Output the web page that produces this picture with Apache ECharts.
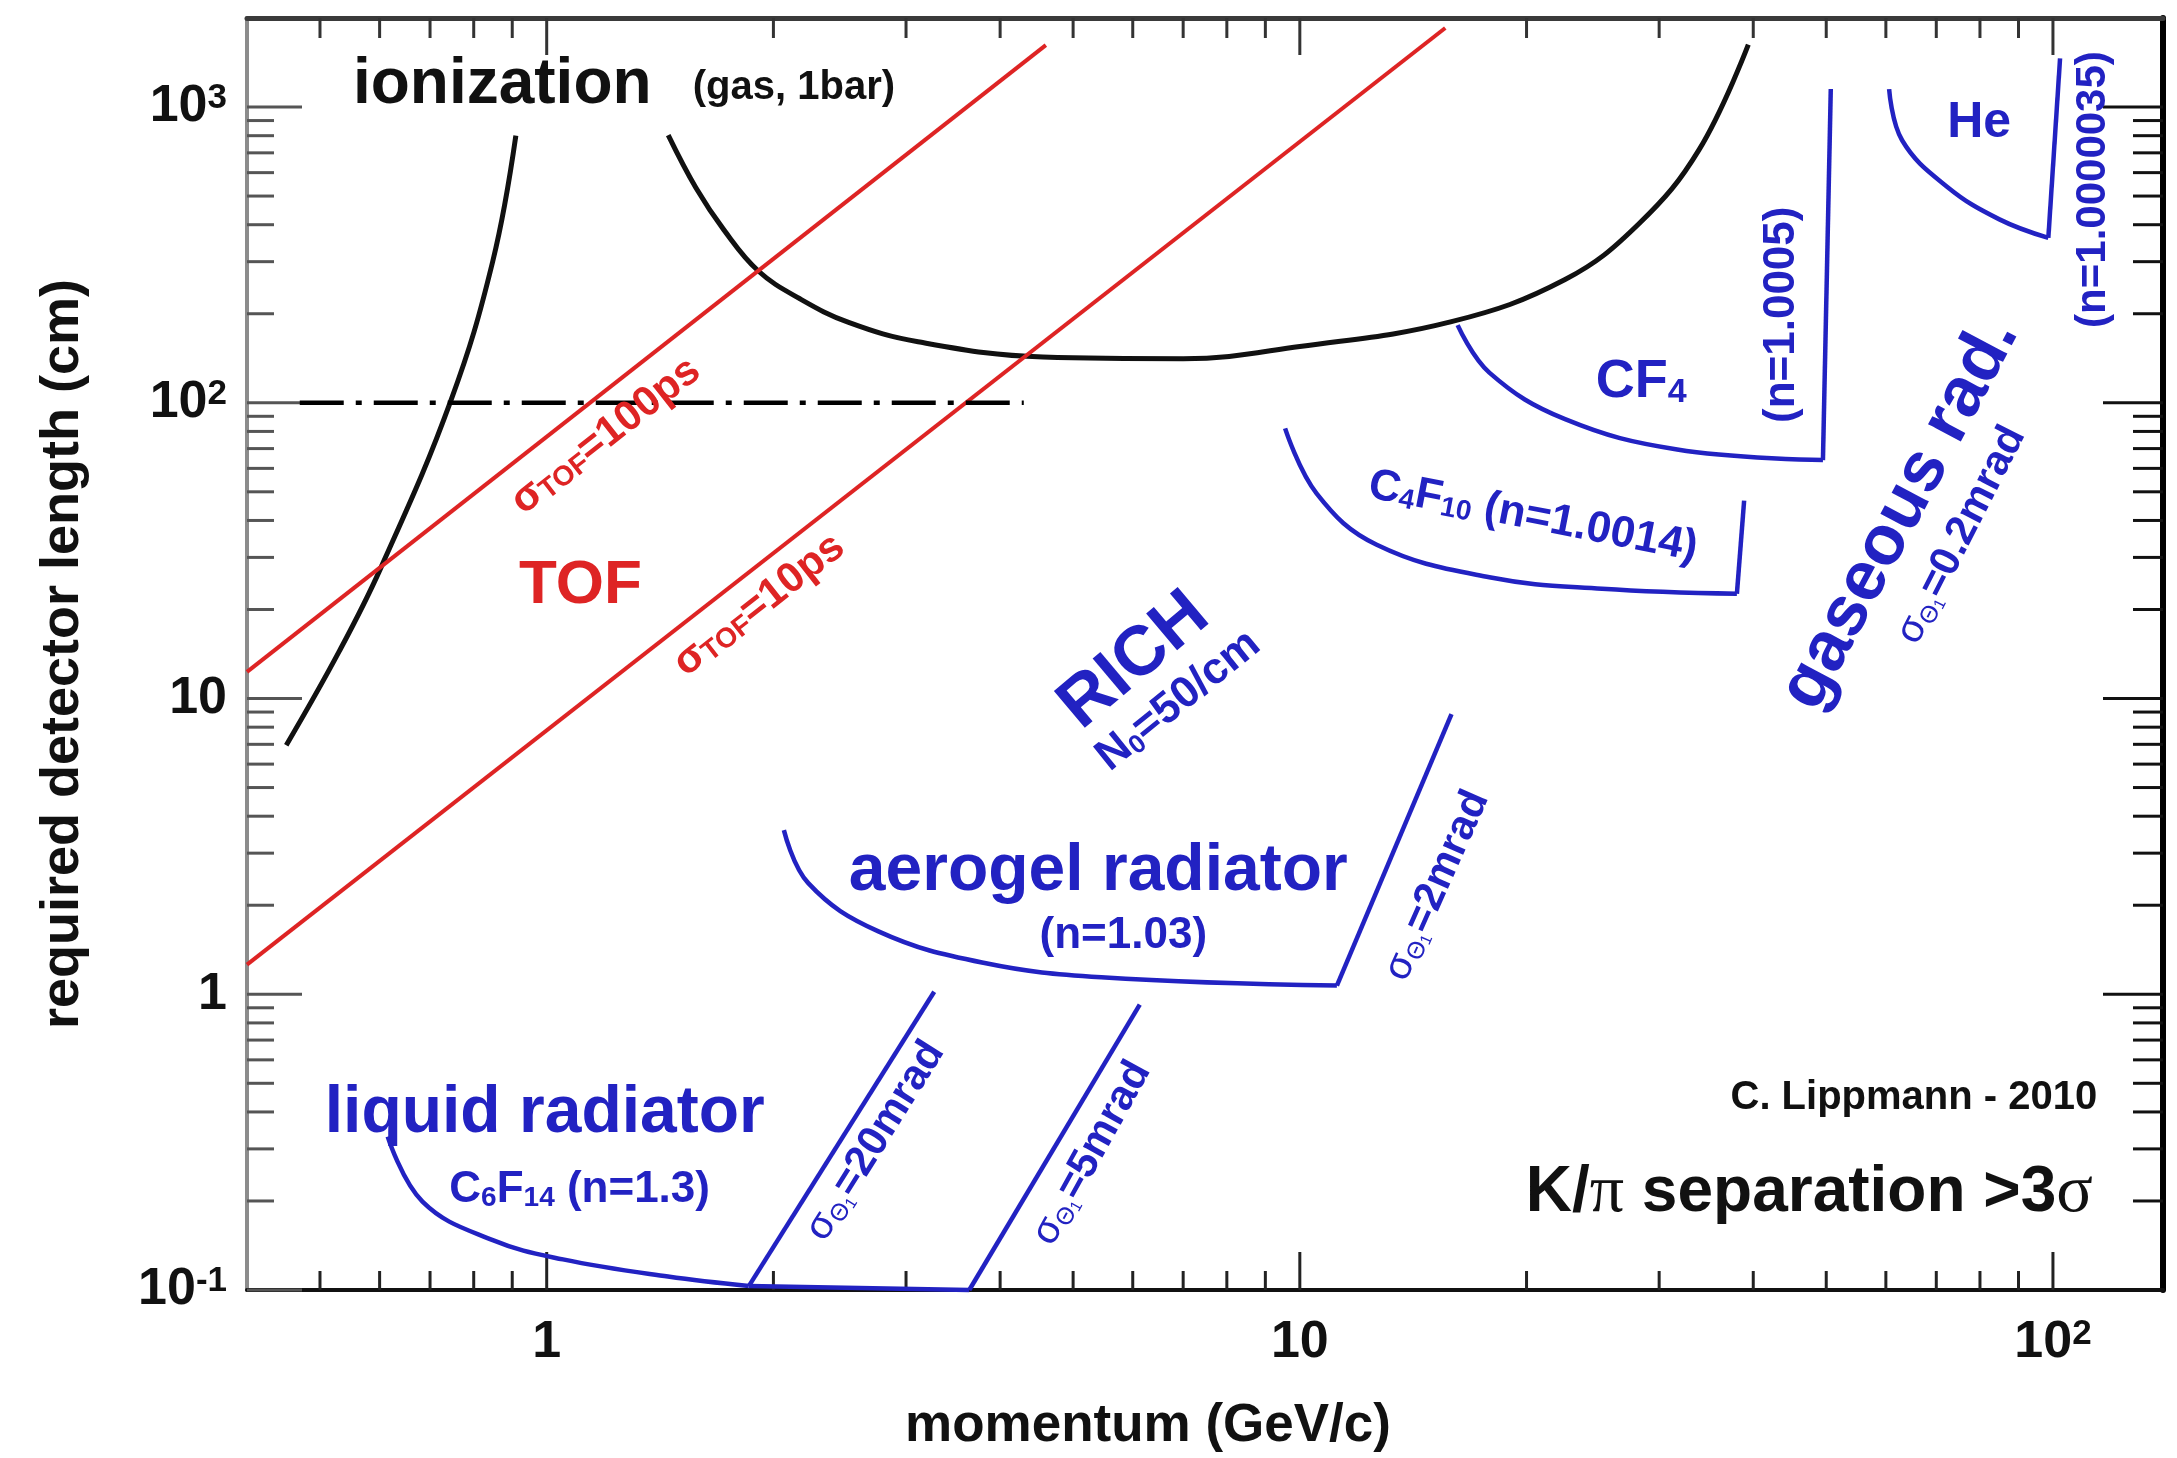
<!DOCTYPE html>
<html>
<head>
<meta charset="utf-8">
<script src="https://cdn.jsdelivr.net/npm/echarts@6/dist/echarts.min.js"></script>
<style>
  html, body { margin: 0; padding: 0; background: #fff; }
  #chart { width: 2177px; height: 1458px; }
</style>
</head>
<body>
<div id="chart"></div>
<script>
// Axis ranges: momentum (GeV/c) and required detector length (cm), both logarithmic
const X_MIN = 0.4, X_MAX = 140;
const Y_MIN = 0.1, Y_MAX = 2000;

// Tick values and labels
const xTickValues = [1, 10, 100];
const xTickLabels = ['1', '10', '10{s|2}'];
const xMinorTicks = [0.5, 0.6, 0.7, 0.8, 0.9, 2, 3, 4, 5, 6, 7, 8, 9, 20, 30, 40, 50, 60, 70, 80, 90];
const yTickValues = [0.1, 1, 10, 100, 1000];
const yTickLabels = ['10{s|-1}', '1', '10', '10{s|2}', '10{s|3}'];
const yMinorTicks = [0.2, 0.3, 0.4, 0.5, 0.6, 0.7, 0.8, 0.9, 2, 3, 4, 5, 6, 7, 8, 9,
                     20, 30, 40, 50, 60, 70, 80, 90, 200, 300, 400, 500, 600, 700, 800, 900];

// Curves: [momentum GeV/c, length cm]
// dE/dx ionization in gas at 1 bar
const ionLeft = [[0.451, 6.95], [0.53, 14.4], [0.602, 27.6], [0.746, 101.7], [0.848, 301], [0.91, 800]];
const ionRight = [[1.45, 803], [1.578, 533], [1.718, 385], [1.91, 279], [2.169, 224.7], [2.517, 187],
                  [3.112, 160.8], [4.56, 142.8], [7.0, 141], [10.0, 155], [15.9, 188], [22.5, 261],
                  [28.2, 403], [33.9, 718], [39.4, 1625]];
// Time of flight
const tof100 = [[0.4, 12.3], [4.6, 1620]];
const tof10 = [[0.4, 1.26], [15.6, 1850]];
// 1 m reference length
const refLength = [[0.47, 100], [4.3, 100]];
// RICH, liquid radiator C6F14
const liquidCurve = [[0.615, 0.33], [0.684, 0.199], [0.848, 0.1474], [1.051, 0.1269], [1.449, 0.111], [1.855, 0.1031]];
const liquidFloor = [[1.855, 0.1031], [3.64, 0.1]];
const liquid20mrad = [[1.855, 0.1031], [3.27, 1.02]];
const liquid5mrad = [[3.64, 0.1], [6.13, 0.923]];
// RICH, aerogel radiator
const aerogelCurve = [[2.065, 3.59], [2.225, 2.376], [2.757, 1.632], [3.8, 1.278], [5.45, 1.142], [11.2, 1.07]];
const aerogel2mrad = [[11.2, 1.07], [15.9, 8.85]];
// RICH, gaseous radiators
const c4f10Curve = [[9.56, 81.9], [10.53, 49.3], [12.65, 33.1], [17.85, 25.7], [25.2, 23.5], [38.05, 22.6]];
const c4f10Edge = [[38.05, 22.6], [38.9, 46.7]];
const cf4Curve = [[16.2, 183], [17.85, 126.5], [22.5, 88], [31.7, 69.5], [49.5, 64]];
const cf4Edge = [[49.5, 64], [50.7, 1150]];
const heCurve = [[60.6, 1149], [63.05, 772], [72.4, 537], [84.9, 417], [98.6, 361]];
const heEdge = [[98.6, 361], [102.2, 1460]];

const FONT = 'Liberation Sans';
const BLUE = '#2222c2', RED = '#de2424', BLACK = '#111111';

function st(color, size, extra) {
  return Object.assign({ color: color, fontSize: size, fontFamily: FONT, fontWeight: 'bold' }, extra || {});
}

const richStyles = {
  ion: st(BLACK, 64),
  gas: st(BLACK, 40),
  tof: st(RED, 62),
  rsg: st(RED, 42),
  rsub: st(RED, 28, { verticalAlign: 'bottom', padding: [14, 0, 0, 0] }),
  rtx: st(RED, 42),
  rich: st(BLUE, 70),
  n0: st(BLUE, 44),
  n0s: st(BLUE, 26, { verticalAlign: 'bottom', padding: [12, 0, 0, 0] }),
  big: st(BLUE, 66),
  gas2: st(BLUE, 70),
  mid: st(BLUE, 44),
  mid2: st(BLUE, 42),
  sub: st(BLUE, 28, { verticalAlign: 'bottom', padding: [12, 0, 0, 0] }),
  sg: st(BLUE, 40, { fontWeight: 'normal' }),
  th: st(BLUE, 24, { fontWeight: 'normal', verticalAlign: 'bottom', padding: [14, 0, 0, 0] }),
  one: st(BLUE, 16, { fontWeight: 'normal', verticalAlign: 'bottom', padding: [20, 0, 0, 0] }),
  mr: st(BLUE, 42),
  he: st(BLUE, 50),
  cf: st(BLUE, 54),
  cfs: st(BLUE, 34, { verticalAlign: 'bottom', padding: [16, 0, 0, 0] }),
  lip: st(BLACK, 40),
  kp: st(BLACK, 64),
  gk: { color: BLACK, fontSize: 68, fontFamily: 'Liberation Serif' }
};

const sigmaTheta = '{sg|σ}{th|Θ}{one|1}';

// Text annotations anchored in data coordinates
const notes = [
  { at: [0.553, 1181], text: '{ion|ionization}', align: 'left' },
  { at: [1.563, 1158], text: '{gas|(gas, 1bar)}', align: 'left' },
  { at: [1.109, 24.0], text: '{tof|TOF}' },
  { at: [1.198, 77.2], text: '{rsg|σ}{rsub|TOF}{rtx|=100ps}', rotate: 38 },
  { at: [1.915, 20.7], text: '{rsg|σ}{rsub|TOF}{rtx|=10ps}', rotate: 38 },
  { at: [6.03, 13.4], text: '{rich|RICH}', rotate: 40 },
  { at: [6.9, 9.83], text: '{n0|N}{n0s|0}{n0|=50/cm}', rotate: 39 },
  { at: [5.40, 2.60], text: '{big|aerogel radiator}' },
  { at: [5.83, 1.58], text: '{mid|(n=1.03)}' },
  { at: [15.2, 2.33], text: sigmaTheta + '{mr|=2mrad}', rotate: 66 },
  { at: [0.994, 0.394], text: '{big|liquid radiator}' },
  { at: [1.106, 0.218], text: '{mid|C}{sub|6}{mid|F}{sub|14}{mid| (n=1.3)}' },
  { at: [2.73, 0.319], text: sigmaTheta + '{mr|=20mrad}', rotate: 58 },
  { at: [5.29, 0.29], text: sigmaTheta + '{mr|=5mrad}', rotate: 61 },
  { at: [20.4, 41.1], text: '{mid|C}{sub|4}{mid|F}{sub|10}{mid| (n=1.0014)}', rotate: -11 },
  { at: [28.4, 117.4], text: '{cf|CF}{cfs|4}' },
  { at: [43.6, 198.4], text: '{mid|(n=1.0005)}', rotate: 90 },
  { at: [79.8, 879], text: '{he|He}' },
  { at: [113, 526], text: '{mid2|(n=1.0000035)}', rotate: 90 },
  { at: [62.7, 42.1], text: '{gas2|gaseous rad.}', rotate: 62 },
  { at: [75.5, 35.7], text: sigmaTheta + '{mr|=0.2mrad}', rotate: 63 },
  { at: [114.5, 0.4456], text: '{lip|C. Lippmann - 2010}', align: 'right' },
  { at: [113, 0.213], text: '{kp|K/}{gk|π}{kp| separation >3}{gk|σ}', align: 'right' }
];

function tickLabel(values, labels) {
  return function (v) {
    const i = values.findIndex(t => Math.abs(Math.log10(t) - Math.log10(v)) < 1e-6);
    return i < 0 ? '' : labels[i];
  };
}

function curve(data, color, width, smooth, extra) {
  return Object.assign({
    type: 'line', data: data, showSymbol: false, symbol: 'none', silent: true,
    smooth: smooth ? 0.4 : false, z: 4,
    lineStyle: { color: color, width: width }
  }, extra || {});
}

const chart = echarts.init(document.getElementById('chart'), null, { renderer: 'canvas' });

const axisLabelBase = {
  fontSize: 52, fontWeight: 'bold', fontFamily: FONT, color: BLACK,
  rich: { s: { fontSize: 35, fontWeight: 'bold', fontFamily: FONT, color: BLACK, verticalAlign: 'top' } }
};

chart.setOption({
  animation: false,
  backgroundColor: '#ffffff',
  textStyle: { fontFamily: FONT },
  grid: { left: 247, right: 14, top: 18, bottom: 167 },
  xAxis: [
    {
      type: 'log', min: X_MIN, max: X_MAX, position: 'bottom',
      axisLine: { lineStyle: { color: BLACK, width: 4 } },
      axisTick: { show: false },
      splitLine: { show: false },
      axisLabel: Object.assign({ margin: 27, formatter: tickLabel(xTickValues, xTickLabels) }, axisLabelBase),
      name: 'momentum (GeV/c)', nameLocation: 'middle', nameGap: 110,
      nameTextStyle: { fontSize: 53, fontWeight: 'bold', fontFamily: FONT, color: BLACK, padding: [0, 114, 0, 0] }
    },
    {
      type: 'log', min: X_MIN, max: X_MAX, position: 'top',
      axisLine: { lineStyle: { color: '#3a3a3a', width: 5 } },
      axisTick: { show: false }, axisLabel: { show: false }, splitLine: { show: false }
    }
  ],
  yAxis: [
    {
      type: 'log', min: Y_MIN, max: Y_MAX, position: 'left',
      axisLine: { lineStyle: { color: '#8c8c8c', width: 4 } },
      axisTick: { show: false },
      splitLine: { show: false },
      axisLabel: Object.assign({ margin: 20, formatter: tickLabel(yTickValues, yTickLabels) }, axisLabelBase),
      name: 'required detector length (cm)', nameLocation: 'middle', nameGap: 157,
      nameTextStyle: { fontSize: 54, fontWeight: 'bold', fontFamily: FONT, color: BLACK }
    },
    {
      type: 'log', min: Y_MIN, max: Y_MAX, position: 'right',
      axisLine: { lineStyle: { color: '#000', width: 6 } },
      axisTick: { show: false }, axisLabel: { show: false }, splitLine: { show: false }
    }
  ],
  series: [
    // x ticks (bottom and top, pointing inward)
    {
      type: 'custom', silent: true, z: 3,
      data: xTickValues.concat(xMinorTicks).map(v => [v, 1]),
      renderItem: function (params, api) {
        const v = api.value(0);
        const major = xTickValues.indexOf(v) >= 0;
        const b = api.coord([v, Y_MIN]);
        const t = api.coord([v, Y_MAX]);
        return {
          type: 'group', children: [
            { type: 'line', shape: { x1: b[0], y1: b[1], x2: b[0], y2: b[1] - (major ? 38 : 19) }, style: { stroke: '#222', lineWidth: 3 } },
            { type: 'line', shape: { x1: t[0], y1: t[1], x2: t[0], y2: t[1] + (major ? 37 : 20) }, style: { stroke: '#333', lineWidth: 3 } }
          ]
        };
      }
    },
    // y ticks (left and right, pointing inward)
    {
      type: 'custom', silent: true, z: 3,
      data: yTickValues.concat(yMinorTicks).map(v => [1, v]),
      renderItem: function (params, api) {
        const v = api.value(1);
        const major = yTickValues.indexOf(v) >= 0;
        const l = api.coord([X_MIN, v]);
        const r = api.coord([X_MAX, v]);
        return {
          type: 'group', children: [
            { type: 'line', shape: { x1: l[0], y1: l[1], x2: l[0] + (major ? 55 : 27), y2: l[1] }, style: { stroke: '#555', lineWidth: 3 } },
            { type: 'line', shape: { x1: r[0], y1: r[1], x2: r[0] - (major ? 60 : 30), y2: r[1] }, style: { stroke: '#111', lineWidth: 3 } }
          ]
        };
      }
    },
    curve(ionLeft, BLACK, 5, true),
    curve(ionRight, BLACK, 5, true),
    curve(tof100, RED, 4, false),
    curve(tof10, RED, 4, false),
    curve(refLength, '#000', 4.5, false, { lineStyle: { color: '#000', width: 4.5, type: [44, 12, 6, 12] } }),
    curve(liquidCurve, BLUE, 4.5, true, { clip: false }),
    curve(liquidFloor, BLUE, 4.5, false, { clip: false }),
    curve(liquid20mrad, BLUE, 4.5, false, { clip: false }),
    curve(liquid5mrad, BLUE, 4.5, false, { clip: false }),
    curve(aerogelCurve, BLUE, 4.5, true),
    curve(aerogel2mrad, BLUE, 4.5, false),
    curve(c4f10Curve, BLUE, 4.5, true),
    curve(c4f10Edge, BLUE, 4.5, false),
    curve(cf4Curve, BLUE, 4.5, true),
    curve(cf4Edge, BLUE, 4.5, false),
    curve(heCurve, BLUE, 4.5, true),
    curve(heEdge, BLUE, 4.5, false),
    // annotations
    {
      type: 'scatter', silent: true, z: 6,
      symbolSize: 0,
      itemStyle: { color: 'transparent', opacity: 1 },
      label: { show: true, position: 'inside', align: 'center', verticalAlign: 'middle', opacity: 1, rich: richStyles },
      data: notes.map(n => ({
        value: n.at,
        label: { formatter: n.text, rotate: n.rotate || 0, align: n.align || 'center' }
      }))
    }
  ]
});
</script>
</body>
</html>
